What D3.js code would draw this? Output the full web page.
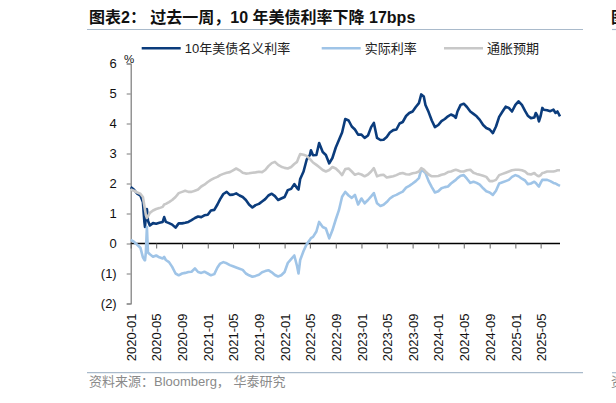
<!DOCTYPE html>
<html>
<head>
<meta charset="utf-8">
<script src="https://cdn.jsdelivr.net/npm/d3@7/dist/d3.min.js"></script>
<style>
  body { margin: 0; background: #fff; }
  svg { display: block; font-family: "Liberation Sans", "Noto Sans CJK SC", sans-serif; }
</style>
</head>
<body>
<svg id="chart" width="616" height="403"></svg>
<script>
// ---- data ----
var dates = [
  "2020-01-01","2020-01-16","2020-02-01","2020-02-16","2020-02-28","2020-03-06","2020-03-09","2020-03-13","2020-03-18","2020-03-23",
  "2020-04-01","2020-04-16","2020-05-01","2020-05-16","2020-06-01","2020-06-08","2020-06-16","2020-07-01","2020-07-16","2020-08-01",
  "2020-08-16","2020-09-01","2020-09-16","2020-10-01","2020-10-16","2020-11-01","2020-11-16","2020-12-01","2020-12-16","2021-01-01",
  "2021-01-16","2021-02-01","2021-02-16","2021-03-01","2021-03-16","2021-04-01","2021-04-16","2021-05-01","2021-05-16","2021-06-01",
  "2021-06-16","2021-07-01","2021-07-16","2021-08-01","2021-08-16","2021-09-01","2021-09-16","2021-10-01","2021-10-16","2021-11-01",
  "2021-11-16","2021-12-01","2021-12-16","2022-01-01","2022-01-16","2022-02-01","2022-02-16","2022-03-01","2022-03-08","2022-03-16",
  "2022-04-01","2022-04-16","2022-05-01","2022-05-06","2022-05-16","2022-06-01","2022-06-14","2022-07-01","2022-07-16","2022-08-01",
  "2022-08-16","2022-09-01","2022-09-16","2022-10-01","2022-10-16","2022-11-01","2022-11-16","2022-12-01","2022-12-16","2023-01-01",
  "2023-01-16","2023-02-01","2023-02-16","2023-03-01","2023-03-16","2023-04-01","2023-04-16","2023-05-01","2023-05-16","2023-06-01",
  "2023-06-16","2023-07-01","2023-07-16","2023-08-01","2023-08-16","2023-09-01","2023-09-16","2023-10-01","2023-10-12","2023-10-24",
  "2023-11-01","2023-11-16","2023-12-01","2023-12-16","2024-01-01","2024-01-16","2024-02-01","2024-02-16","2024-03-01","2024-03-16",
  "2024-03-24","2024-04-01","2024-04-16","2024-05-01","2024-05-16","2024-06-01","2024-06-16","2024-07-01","2024-07-16","2024-08-01",
  "2024-08-16","2024-09-01","2024-09-16","2024-10-01","2024-10-16","2024-11-01","2024-11-16","2024-12-01","2024-12-16","2025-01-01",
  "2025-01-16","2025-02-01","2025-02-16","2025-03-01","2025-03-16","2025-04-01","2025-04-08","2025-04-16","2025-04-23","2025-05-01",
  "2025-05-09","2025-05-16","2025-06-01","2025-06-16","2025-07-01","2025-07-11","2025-07-20","2025-08-01"
];
var nominal = [
  1.88,1.80,1.66,1.60,1.38,0.72,0.55,0.95,1.15,0.76,
  0.60,0.68,0.66,0.69,0.72,0.88,0.72,0.68,0.63,0.53,
  0.67,0.67,0.69,0.72,0.78,0.85,0.90,0.88,0.94,0.96,
  1.10,1.12,1.30,1.48,1.65,1.72,1.62,1.63,1.67,1.60,
  1.55,1.45,1.30,1.20,1.28,1.32,1.40,1.48,1.60,1.66,
  1.58,1.45,1.50,1.55,1.78,1.82,1.98,1.85,1.80,2.15,
  2.40,2.80,2.95,3.11,2.94,2.95,3.35,3.05,2.95,2.67,
  2.85,3.20,3.45,3.70,4.15,4.10,3.90,3.80,3.63,3.63,
  3.52,3.60,3.88,4.02,3.52,3.45,3.46,3.55,3.70,3.78,
  3.80,4.00,4.05,4.25,4.35,4.40,4.55,4.68,4.97,4.90,
  4.62,4.38,4.10,3.88,3.95,4.08,4.15,4.24,4.30,4.25,
  4.19,4.40,4.62,4.66,4.55,4.40,4.32,4.24,4.12,3.95,
  3.85,3.80,3.68,3.90,4.22,4.40,4.56,4.52,4.40,4.62,
  4.74,4.62,4.42,4.26,4.18,4.20,4.35,4.25,4.07,4.25,
  4.52,4.46,4.44,4.41,4.46,4.35,4.40,4.24
];
var real = [
  0.12,0.06,-0.04,-0.14,-0.46,-0.55,-0.56,-0.30,0.55,-0.30,
  -0.36,-0.44,-0.40,-0.46,-0.50,-0.45,-0.55,-0.62,-0.78,-1.00,
  -1.06,-1.00,-0.98,-0.95,-0.94,-0.83,-0.95,-0.98,-0.94,-1.00,
  -1.06,-1.02,-0.80,-0.67,-0.62,-0.66,-0.72,-0.76,-0.80,-0.84,
  -0.88,-1.00,-1.06,-1.11,-1.08,-1.04,-0.96,-0.92,-0.89,-0.96,
  -1.05,-1.10,-1.06,-0.95,-0.65,-0.52,-0.40,-0.75,-1.00,-0.55,
  -0.25,-0.02,0.12,0.18,0.22,0.40,0.72,0.55,0.50,0.17,
  0.44,0.80,1.11,1.56,1.72,1.60,1.52,1.62,1.30,1.50,
  1.34,1.45,1.57,1.68,1.34,1.25,1.29,1.38,1.50,1.58,
  1.62,1.68,1.73,1.86,1.92,2.00,2.08,2.18,2.46,2.40,
  2.35,2.08,1.88,1.70,1.74,1.84,1.88,1.90,2.00,2.08,
  2.12,2.18,2.26,2.28,2.16,2.02,2.06,2.02,1.96,1.84,
  1.74,1.70,1.62,1.76,2.00,2.04,2.08,2.12,2.22,2.28,
  2.24,2.16,2.10,1.98,2.00,2.06,2.02,1.95,1.90,2.02,
  2.12,2.12,2.12,2.08,2.02,2.00,1.96,1.92
];
var breakeven = [
  1.80,1.76,1.70,1.66,1.55,1.25,1.12,0.95,0.85,0.90,
  1.02,1.10,1.15,1.18,1.22,1.30,1.32,1.38,1.45,1.55,
  1.68,1.72,1.76,1.72,1.72,1.76,1.80,1.90,1.96,2.05,
  2.12,2.18,2.22,2.28,2.32,2.36,2.38,2.44,2.50,2.44,
  2.36,2.33,2.34,2.36,2.37,2.39,2.38,2.45,2.58,2.68,
  2.72,2.62,2.56,2.52,2.50,2.55,2.65,2.72,2.85,2.98,
  2.96,2.92,2.82,2.78,2.70,2.62,2.55,2.45,2.40,2.45,
  2.55,2.50,2.40,2.28,2.48,2.50,2.40,2.29,2.33,2.30,
  2.24,2.30,2.40,2.51,2.24,2.28,2.29,2.20,2.22,2.24,
  2.28,2.33,2.35,2.31,2.30,2.34,2.36,2.40,2.51,2.46,
  2.40,2.30,2.24,2.24,2.25,2.29,2.32,2.38,2.40,2.44,
  2.46,2.44,2.40,2.40,2.44,2.46,2.36,2.32,2.29,2.26,
  2.22,2.08,2.08,2.12,2.28,2.32,2.36,2.40,2.44,2.46,
  2.46,2.44,2.40,2.32,2.30,2.35,2.30,2.26,2.24,2.28,
  2.35,2.36,2.40,2.40,2.40,2.42,2.44,2.44
];
var seriesNames = ["10年美债名义利率", "实际利率", "通胀预期"];
var yTicks = [-2, -1, 0, 1, 2, 3, 4, 5, 6];
var titleText = "图表2： 过去一周，10 年美债利率下降 17bps";
var sourceText = "资料来源：Bloomberg， 华泰研究";

// ---- styles ----
var seriesColors = ["#0b3c7c", "#9fc4e7", "#c8c8c8"];
var frameColor = "#a9bacb";

var svg = d3.select("#chart");
var parse = d3.timeParse("%Y-%m-%d");

var x = d3.scaleTime()
    .domain([parse("2020-01-01"), parse("2025-08-01")])
    .range([130.7, 560]);
var y = d3.scaleLinear().domain([-2, 6]).range([303.5, 63.5]);

// title and frame lines
svg.append("text")
    .attr("x", 89).attr("y", 22.5)
    .attr("font-size", 16).attr("font-weight", "bold").attr("fill", "#111")
    .text(titleText);
svg.append("line").attr("x1", 87).attr("x2", 583).attr("y1", 29.5).attr("y2", 29.5)
    .attr("stroke", frameColor).attr("stroke-width", 1.2);
svg.append("line").attr("x1", 87).attr("x2", 583).attr("y1", 372.7).attr("y2", 372.7)
    .attr("stroke", frameColor).attr("stroke-width", 1.2);
// neighbouring chart, cut by the page edge as in the reference
svg.append("text").attr("x", 611).attr("y", 22.5)
    .attr("font-size", 16).attr("font-weight", "bold").attr("fill", "#111").text("图");
svg.append("line").attr("x1", 612).attr("x2", 616).attr("y1", 29.5).attr("y2", 29.5)
    .attr("stroke", frameColor).attr("stroke-width", 1.2);
svg.append("line").attr("x1", 612).attr("x2", 616).attr("y1", 372.7).attr("y2", 372.7)
    .attr("stroke", frameColor).attr("stroke-width", 1.2);
svg.append("text").attr("x", 611).attr("y", 386)
    .attr("font-size", 13).attr("fill", "#8a8a8a").text("资");

// source
svg.append("text")
    .attr("x", 89).attr("y", 386)
    .attr("font-size", 13).attr("fill", "#8a8a8a")
    .text(sourceText);

// legend
var legendX = [141.7, 321.7, 444];
var legend = svg.append("g").selectAll("g")
    .data(seriesNames)
    .enter().append("g")
    .attr("transform", function (d, i) { return "translate(" + legendX[i] + ",48.3)"; });
legend.append("line")
    .attr("x1", 0).attr("x2", 39)
    .attr("stroke", function (d, i) { return seriesColors[i]; })
    .attr("stroke-width", 2.5);
legend.append("text")
    .attr("x", 43).attr("dy", "0.36em")
    .attr("font-size", 13).attr("fill", "#222")
    .text(function (d) { return d; });

// y axis
var yAxis = svg.append("g")
    .attr("transform", "translate(130.7,0)")
    .call(d3.axisLeft(y).tickValues(yTicks).tickSize(4).tickPadding(10)
        .tickFormat(function (d) { return d < 0 ? "(" + (-d) + ")" : d; }));
yAxis.select(".domain").attr("stroke", "#7a7a7a").attr("stroke-width", 1.2);
yAxis.selectAll(".tick line").attr("stroke", "#7a7a7a");
yAxis.selectAll("text").attr("font-size", 13).attr("fill", "#111")
    .attr("font-family", "Liberation Sans");
svg.append("text").attr("x", 129).attr("y", 63)
    .attr("text-anchor", "middle").attr("font-size", 11.5).attr("fill", "#111").text("%");

// x axis on the zero line
var xTicks = x.ticks(d3.timeMonth.every(4));
var xAxis = svg.append("g")
    .attr("transform", "translate(0," + y(0) + ")")
    .call(d3.axisBottom(x).tickValues(xTicks).tickSize(5).tickFormat(""));
xAxis.select(".domain").attr("stroke", "#000").attr("stroke-width", 1.3)
    .attr("d", "M" + x.range()[0] + ",0H" + x.range()[1]);
xAxis.selectAll(".tick line").attr("stroke", "#666");

// x labels at the bottom
var xLabels = svg.append("g")
    .attr("transform", "translate(0,312.5)")
    .call(d3.axisBottom(x).tickValues(xTicks).tickSize(0).tickFormat(d3.timeFormat("%Y-%m")));
xLabels.select(".domain").remove();
xLabels.selectAll("text")
    .attr("transform", "rotate(-90)")
    .attr("text-anchor", "end")
    .attr("x", -1).attr("y", 0).attr("dy", "0.36em")
    .attr("font-size", 13).attr("fill", "#111")
    .attr("font-family", "Liberation Sans");

// lines
var parsedDates = dates.map(parse);
var allSeries = [nominal, real, breakeven];
var line = d3.line()
    .x(function (d, i) { return x(parsedDates[i]); })
    .y(function (d) { return y(d); });
svg.append("g").selectAll("path")
    .data(allSeries)
    .enter().append("path")
    .attr("d", function (d) { return line(d); })
    .attr("fill", "none")
    .attr("stroke", function (d, i) { return seriesColors[i]; })
    .attr("stroke-width", 2.6)
    .attr("stroke-linejoin", "round");
</script>
</body>
</html>
